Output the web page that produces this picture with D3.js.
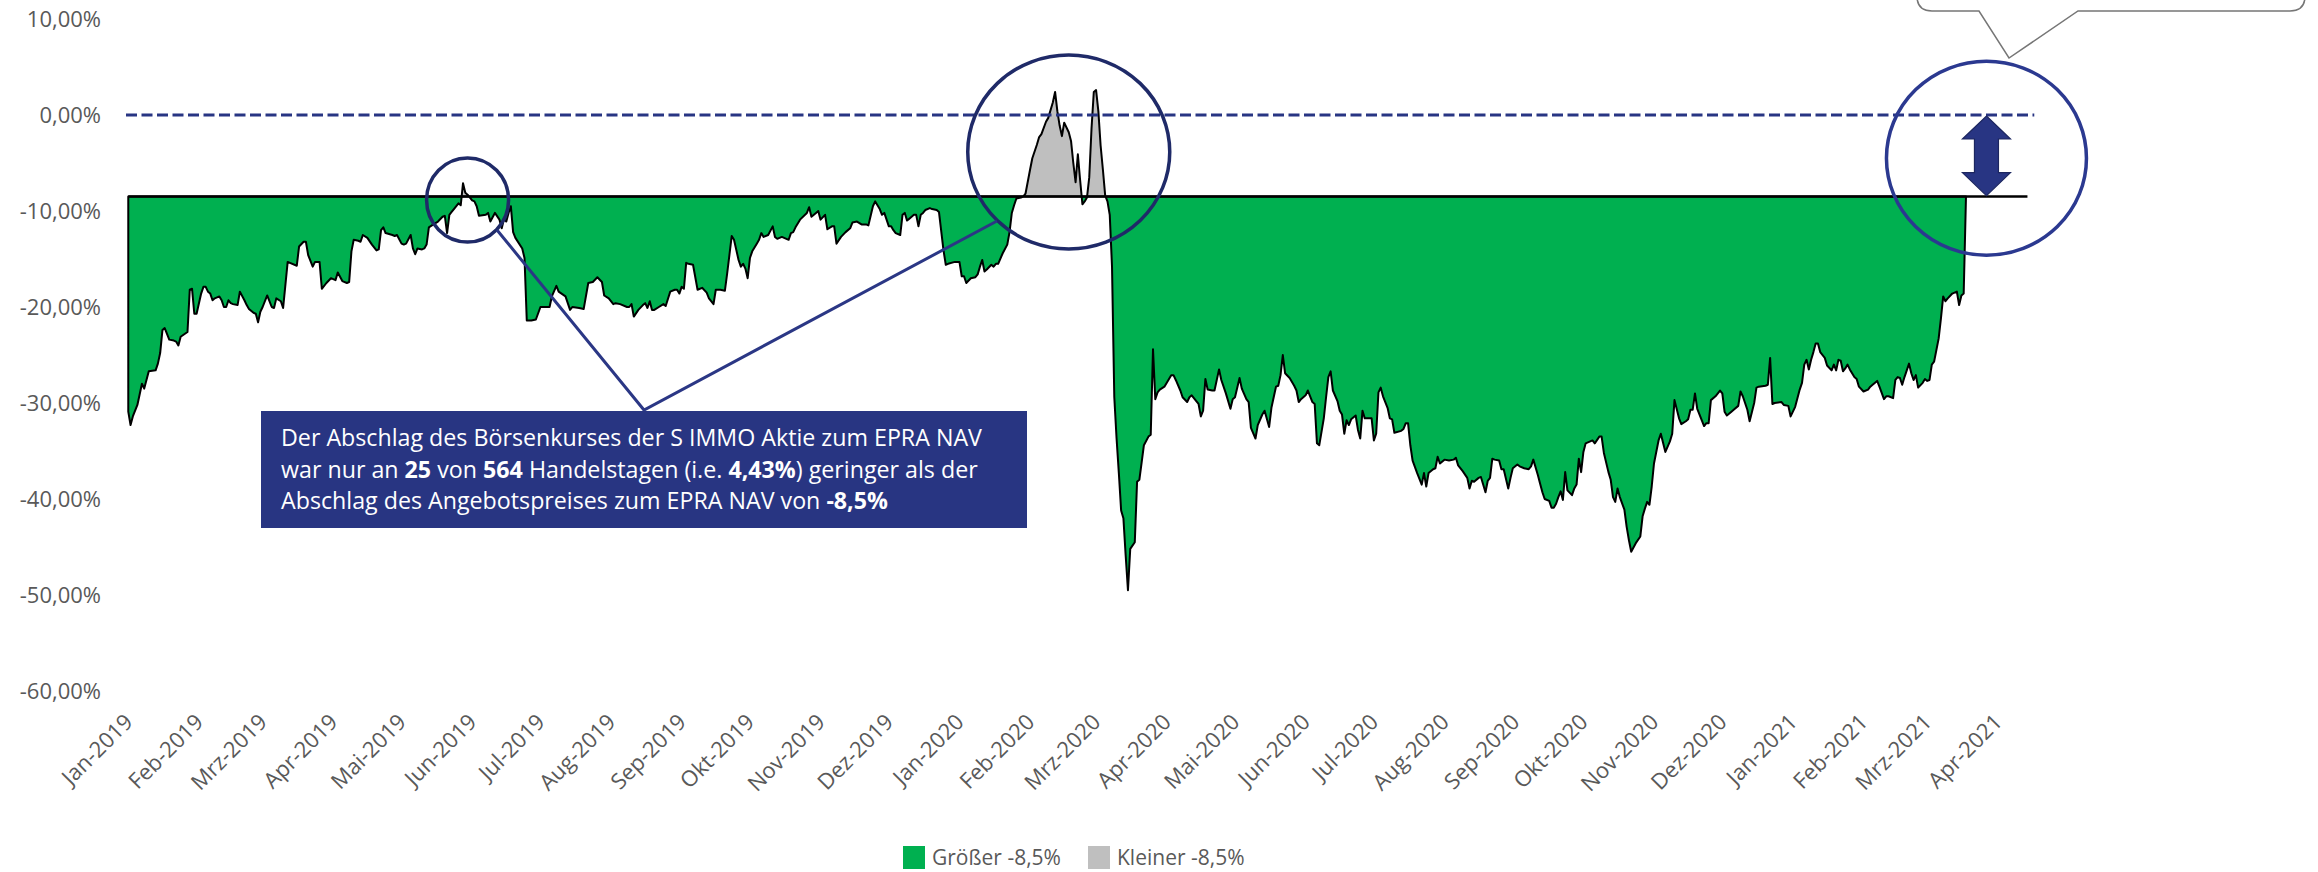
<!DOCTYPE html>
<html>
<head>
<meta charset="utf-8">
<script src="https://cdn.jsdelivr.net/npm/d3@7"></script>
<style>
  body { margin: 0; background: #fff; }
  svg { display: block; font-family: "Open Sans", sans-serif; }
</style>
</head>
<body>
<svg id="chart" width="2318" height="872"></svg>
<script>
// axis labels
const monthNames = ["Jan","Feb","Mrz","Apr","Mai","Jun","Jul","Aug","Sep","Okt","Nov","Dez"]
const yTicks = [10, 0, -10, -20, -30, -40, -50, -60]
const legendLabels = ["Größer -8,5%", "Kleiner -8,5%"]

// reference levels (in %)
const offerDiscount = -8.5
const navParity = 0
const offerLineSpan = ["2019-01-02", "2021-04-15"]
const parityLineSpan = ["2019-01-01", "2021-04-18"]

// discount of the share price to EPRA NAV, in %
const discountByDay = [
  ["2019-01-02",-30.9],["2019-01-03",-32.3],["2019-01-04",-31.4],["2019-01-06",-30.2],["2019-01-08",-28.0],["2019-01-09",-28.5],
  ["2019-01-11",-26.7],["2019-01-14",-26.6],["2019-01-15",-25.9],["2019-01-16",-24.8],["2019-01-17",-22.4],["2019-01-18",-22.2],
  ["2019-01-20",-23.4],["2019-01-22",-23.5],["2019-01-23",-23.6],["2019-01-24",-24.0],["2019-01-25",-23.1],["2019-01-28",-22.6],
  ["2019-01-29",-18.2],["2019-01-30",-18.1],["2019-01-31",-20.7],["2019-02-01",-20.7],["2019-02-03",-18.6],["2019-02-04",-17.9],
  ["2019-02-05",-17.9],["2019-02-06",-18.4],["2019-02-07",-18.6],["2019-02-08",-19.3],["2019-02-09",-19.1],["2019-02-11",-18.9],
  ["2019-02-12",-19.3],["2019-02-13",-20.0],["2019-02-14",-20.0],["2019-02-15",-19.3],["2019-02-16",-19.6],["2019-02-17",-19.7],
  ["2019-02-19",-19.8],["2019-02-20",-18.4],["2019-02-22",-19.3],["2019-02-23",-19.8],["2019-02-24",-20.2],["2019-02-26",-20.6],
  ["2019-02-27",-20.7],["2019-02-28",-21.6],["2019-03-01",-20.5],["2019-03-02",-20.0],["2019-03-04",-18.8],["2019-03-06",-20.0],
  ["2019-03-07",-20.1],["2019-03-08",-19.1],["2019-03-10",-19.4],["2019-03-11",-20.1],["2019-03-13",-15.3],["2019-03-14",-15.4],
  ["2019-03-17",-15.7],["2019-03-18",-13.7],["2019-03-20",-13.2],["2019-03-21",-13.2],["2019-03-22",-14.6],["2019-03-24",-15.8],
  ["2019-03-25",-15.3],["2019-03-27",-15.3],["2019-03-28",-18.1],["2019-03-30",-17.5],["2019-04-01",-17.0],["2019-04-03",-17.2],
  ["2019-04-04",-16.4],["2019-04-06",-17.3],["2019-04-08",-17.5],["2019-04-09",-17.4],["2019-04-10",-14.2],["2019-04-11",-13.0],
  ["2019-04-13",-13.1],["2019-04-14",-13.2],["2019-04-15",-12.5],["2019-04-17",-12.8],["2019-04-19",-13.5],["2019-04-21",-14.1],
  ["2019-04-22",-14.0],["2019-04-23",-12.0],["2019-04-24",-11.7],["2019-04-25",-12.3],["2019-04-28",-12.5],["2019-04-29",-12.6],
  ["2019-04-30",-12.5],["2019-05-02",-13.4],["2019-05-03",-13.5],["2019-05-04",-13.4],["2019-05-06",-12.5],["2019-05-07",-13.9],
  ["2019-05-08",-14.5],["2019-05-09",-13.9],["2019-05-11",-14.0],["2019-05-12",-13.9],["2019-05-13",-13.5],["2019-05-14",-11.7],
  ["2019-05-16",-11.4],["2019-05-18",-11.1],["2019-05-20",-10.6],["2019-05-21",-10.5],["2019-05-22",-12.3],["2019-05-23",-10.4],
  ["2019-05-24",-10.1],["2019-05-25",-9.8],["2019-05-27",-9.2],["2019-05-28",-9.4],["2019-05-29",-7.1],["2019-05-30",-8.1],
  ["2019-05-31",-8.3],["2019-06-02",-8.9],["2019-06-03",-9.0],["2019-06-04",-9.5],["2019-06-05",-10.5],["2019-06-08",-10.4],
  ["2019-06-09",-10.2],["2019-06-10",-11.1],["2019-06-12",-10.2],["2019-06-14",-10.9],["2019-06-15",-11.8],["2019-06-16",-10.8],
  ["2019-06-17",-11.1],["2019-06-18",-10.2],["2019-06-19",-9.5],["2019-06-20",-12.2],["2019-06-21",-12.8],["2019-06-24",-13.9],
  ["2019-06-25",-14.9],["2019-06-26",-21.4],["2019-06-28",-21.4],["2019-06-30",-21.3],["2019-07-02",-20.0],["2019-07-04",-20.0],
  ["2019-07-06",-20.0],["2019-07-07",-18.9],["2019-07-09",-17.8],["2019-07-10",-18.4],["2019-07-13",-18.9],["2019-07-15",-20.3],
  ["2019-07-16",-20.0],["2019-07-19",-20.1],["2019-07-21",-20.2],["2019-07-23",-17.5],["2019-07-25",-17.4],["2019-07-27",-16.9],
  ["2019-07-29",-17.4],["2019-07-30",-18.8],["2019-08-01",-19.1],["2019-08-03",-19.7],["2019-08-04",-19.6],["2019-08-06",-19.7],
  ["2019-08-09",-20.0],["2019-08-10",-20.0],["2019-08-11",-19.7],["2019-08-12",-21.0],["2019-08-14",-20.3],["2019-08-16",-19.8],
  ["2019-08-17",-19.6],["2019-08-18",-20.1],["2019-08-19",-19.4],["2019-08-20",-20.3],["2019-08-21",-20.3],["2019-08-23",-20.0],
  ["2019-08-25",-19.7],["2019-08-26",-19.9],["2019-08-28",-18.4],["2019-08-30",-18.2],["2019-08-31",-18.2],["2019-09-01",-18.6],
  ["2019-09-02",-17.9],["2019-09-03",-18.1],["2019-09-04",-15.4],["2019-09-05",-15.5],["2019-09-07",-15.6],["2019-09-09",-18.2],
  ["2019-09-11",-18.0],["2019-09-13",-18.5],["2019-09-14",-19.1],["2019-09-16",-19.7],["2019-09-17",-18.2],["2019-09-19",-18.2],
  ["2019-09-21",-18.3],["2019-09-22",-16.5],["2019-09-24",-12.6],["2019-09-25",-13.0],["2019-09-27",-15.1],["2019-09-28",-15.8],
  ["2019-09-29",-15.5],["2019-09-30",-16.0],["2019-10-01",-17.0],["2019-10-02",-14.9],["2019-10-03",-14.2],["2019-10-05",-13.4],
  ["2019-10-06",-13.0],["2019-10-07",-12.3],["2019-10-08",-12.7],["2019-10-10",-12.5],["2019-10-12",-11.6],["2019-10-13",-12.7],
  ["2019-10-14",-12.9],["2019-10-16",-12.7],["2019-10-18",-12.9],["2019-10-19",-13.0],["2019-10-20",-12.3],["2019-10-21",-12.2],
  ["2019-10-22",-11.7],["2019-10-24",-10.9],["2019-10-27",-10.2],["2019-10-28",-9.6],["2019-10-29",-10.6],["2019-10-31",-10.2],
  ["2019-11-01",-10.0],["2019-11-02",-10.9],["2019-11-04",-10.4],["2019-11-05",-11.9],["2019-11-07",-11.6],["2019-11-08",-11.6],
  ["2019-11-09",-13.4],["2019-11-11",-12.7],["2019-11-13",-12.2],["2019-11-15",-11.8],["2019-11-16",-11.2],["2019-11-18",-11.1],
  ["2019-11-20",-11.4],["2019-11-22",-11.4],["2019-11-23",-11.5],["2019-11-25",-9.5],["2019-11-26",-9.0],["2019-11-27",-9.4],
  ["2019-11-28",-9.8],["2019-11-29",-10.4],["2019-11-30",-10.2],["2019-12-02",-11.6],["2019-12-03",-11.6],["2019-12-04",-12.0],
  ["2019-12-05",-12.3],["2019-12-07",-12.5],["2019-12-08",-10.4],["2019-12-09",-10.2],["2019-12-10",-11.0],["2019-12-11",-10.8],
  ["2019-12-13",-10.4],["2019-12-14",-10.4],["2019-12-15",-11.6],["2019-12-16",-10.4],["2019-12-17",-10.2],["2019-12-18",-9.9],
  ["2019-12-20",-9.7],["2019-12-21",-9.8],["2019-12-23",-9.9],["2019-12-24",-10.1],["2019-12-26",-14.1],["2019-12-27",-15.6],
  ["2019-12-28",-15.5],["2019-12-31",-15.3],["2020-01-02",-15.3],["2020-01-03",-16.8],["2020-01-04",-16.8],["2020-01-05",-17.5],
  ["2020-01-07",-17.0],["2020-01-09",-16.9],["2020-01-10",-16.6],["2020-01-11",-15.8],["2020-01-12",-15.1],["2020-01-13",-16.3],
  ["2020-01-14",-16.1],["2020-01-16",-15.6],["2020-01-17",-15.8],["2020-01-18",-15.5],["2020-01-19",-15.5],["2020-01-21",-14.4],
  ["2020-01-23",-13.5],["2020-01-24",-12.2],["2020-01-25",-10.2],["2020-01-26",-9.4],["2020-01-27",-8.7],["2020-01-29",-8.6],
  ["2020-01-30",-8.5],["2020-01-31",-8.2],["2020-02-02",-5.7],["2020-02-03",-4.5],["2020-02-05",-3.1],["2020-02-06",-2.3],
  ["2020-02-07",-2.0],["2020-02-09",-0.7],["2020-02-10",-0.3],["2020-02-12",1.3],["2020-02-13",2.4],["2020-02-14",0.4],
  ["2020-02-15",-1.1],["2020-02-16",-2.2],["2020-02-17",-0.8],["2020-02-19",-1.8],["2020-02-20",-2.7],["2020-02-21",-5.0],
  ["2020-02-22",-7.0],["2020-02-23",-4.1],["2020-02-24",-6.8],["2020-02-25",-9.3],["2020-02-26",-9.0],["2020-02-27",-8.6],
  ["2020-02-28",-6.5],["2020-02-29",-1.4],["2020-03-01",2.4],["2020-03-02",2.6],["2020-03-03",0.4],["2020-03-04",-3.2],
  ["2020-03-05",-5.7],["2020-03-06",-8.4],["2020-03-07",-9.0],["2020-03-08",-10.4],["2020-03-09",-15.8],["2020-03-10",-29.4],
  ["2020-03-11",-33.7],["2020-03-12",-37.3],["2020-03-13",-41.2],["2020-03-14",-42.0],["2020-03-15",-45.9],["2020-03-16",-49.5],
  ["2020-03-17",-45.2],["2020-03-19",-44.5],["2020-03-20",-38.2],["2020-03-21",-38.0],["2020-03-22",-36.2],["2020-03-23",-34.4],
  ["2020-03-25",-33.5],["2020-03-26",-33.3],["2020-03-27",-24.4],["2020-03-28",-29.6],["2020-03-29",-28.9],["2020-03-30",-28.6],
  ["2020-04-01",-28.3],["2020-04-04",-27.1],["2020-04-05",-27.1],["2020-04-06",-27.6],["2020-04-08",-28.7],["2020-04-09",-29.4],
  ["2020-04-11",-29.9],["2020-04-12",-29.4],["2020-04-13",-29.2],["2020-04-15",-29.8],["2020-04-16",-30.1],["2020-04-17",-31.4],
  ["2020-04-18",-30.8],["2020-04-19",-27.5],["2020-04-20",-28.6],["2020-04-22",-28.7],["2020-04-23",-28.7],["2020-04-25",-26.5],
  ["2020-04-26",-27.6],["2020-04-28",-29.0],["2020-04-30",-30.6],["2020-05-01",-29.6],["2020-05-02",-29.4],["2020-05-04",-27.4],
  ["2020-05-05",-28.5],["2020-05-07",-29.6],["2020-05-08",-29.9],["2020-05-09",-32.6],["2020-05-11",-33.7],["2020-05-12",-32.3],
  ["2020-05-14",-31.2],["2020-05-15",-30.8],["2020-05-17",-32.5],["2020-05-18",-30.5],["2020-05-20",-28.3],["2020-05-21",-28.2],
  ["2020-05-22",-27.1],["2020-05-23",-25.0],["2020-05-24",-26.9],["2020-05-26",-27.4],["2020-05-28",-28.2],["2020-05-29",-28.7],
  ["2020-05-30",-29.9],["2020-05-31",-29.6],["2020-06-02",-29.2],["2020-06-03",-28.7],["2020-06-05",-29.9],["2020-06-06",-30.1],
  ["2020-06-07",-34.2],["2020-06-08",-34.4],["2020-06-09",-33.0],["2020-06-10",-31.6],["2020-06-11",-29.4],["2020-06-12",-27.3],
  ["2020-06-13",-26.7],["2020-06-14",-28.7],["2020-06-16",-29.8],["2020-06-17",-30.8],["2020-06-18",-31.2],["2020-06-19",-33.2],
  ["2020-06-20",-31.8],["2020-06-21",-32.3],["2020-06-22",-31.7],["2020-06-24",-31.3],["2020-06-25",-32.8],["2020-06-26",-33.7],
  ["2020-06-27",-30.8],["2020-06-28",-31.6],["2020-06-30",-31.6],["2020-07-01",-31.6],["2020-07-02",-33.9],["2020-07-03",-33.2],
  ["2020-07-04",-28.9],["2020-07-05",-28.4],["2020-07-06",-29.3],["2020-07-08",-30.5],["2020-07-09",-31.6],["2020-07-10",-31.7],
  ["2020-07-11",-33.1],["2020-07-14",-32.9],["2020-07-15",-32.7],["2020-07-16",-32.1],["2020-07-17",-32.1],["2020-07-18",-34.4],
  ["2020-07-19",-36.0],["2020-07-21",-37.3],["2020-07-23",-38.5],["2020-07-24",-37.3],["2020-07-25",-38.7],["2020-07-26",-37.3],
  ["2020-07-28",-36.9],["2020-07-29",-36.8],["2020-07-30",-35.6],["2020-07-31",-36.3],["2020-08-02",-35.9],["2020-08-04",-36.0],
  ["2020-08-06",-35.9],["2020-08-07",-35.7],["2020-08-08",-36.5],["2020-08-10",-37.1],["2020-08-12",-37.8],["2020-08-13",-38.9],
  ["2020-08-14",-38.1],["2020-08-15",-38.2],["2020-08-17",-37.8],["2020-08-18",-37.7],["2020-08-20",-39.3],["2020-08-21",-38.1],
  ["2020-08-22",-37.8],["2020-08-23",-35.8],["2020-08-24",-35.9],["2020-08-26",-36.0],["2020-08-27",-36.9],["2020-08-28",-36.9],
  ["2020-08-30",-38.9],["2020-08-31",-37.8],["2020-09-01",-36.8],["2020-09-03",-36.4],["2020-09-04",-36.6],["2020-09-06",-36.8],
  ["2020-09-08",-36.9],["2020-09-09",-36.6],["2020-09-10",-35.9],["2020-09-12",-37.5],["2020-09-13",-38.4],["2020-09-14",-39.3],
  ["2020-09-15",-40.0],["2020-09-17",-40.2],["2020-09-18",-40.9],["2020-09-19",-40.9],["2020-09-20",-40.5],["2020-09-21",-39.8],
  ["2020-09-22",-39.2],["2020-09-23",-40.1],["2020-09-24",-37.2],["2020-09-25",-39.1],["2020-09-27",-39.6],["2020-09-28",-38.9],
  ["2020-09-29",-38.5],["2020-09-30",-35.8],["2020-10-01",-37.2],["2020-10-02",-35.1],["2020-10-03",-34.2],["2020-10-06",-33.9],
  ["2020-10-07",-34.2],["2020-10-09",-33.5],["2020-10-10",-33.5],["2020-10-11",-35.2],["2020-10-13",-37.2],["2020-10-14",-38.0],
  ["2020-10-15",-39.8],["2020-10-16",-40.3],["2020-10-17",-38.9],["2020-10-18",-39.8],["2020-10-20",-41.1],["2020-10-21",-42.9],
  ["2020-10-22",-44.3],["2020-10-23",-45.5],["2020-10-25",-44.6],["2020-10-27",-43.9],["2020-10-28",-41.8],["2020-10-29",-41.0],
  ["2020-10-30",-40.3],["2020-10-31",-40.6],["2020-11-01",-38.7],["2020-11-02",-36.3],["2020-11-04",-33.9],["2020-11-05",-33.2],
  ["2020-11-07",-35.1],["2020-11-09",-34.0],["2020-11-10",-33.2],["2020-11-11",-29.7],["2020-11-13",-31.6],["2020-11-14",-32.2],
  ["2020-11-16",-31.9],["2020-11-17",-31.7],["2020-11-18",-30.7],["2020-11-19",-30.7],["2020-11-20",-29.0],["2020-11-21",-30.6],
  ["2020-11-23",-31.8],["2020-11-24",-32.4],["2020-11-25",-32.1],["2020-11-26",-32.1],["2020-11-27",-29.7],["2020-11-29",-29.3],
  ["2020-12-01",-28.7],["2020-12-02",-29.0],["2020-12-03",-30.9],["2020-12-04",-31.3],["2020-12-06",-30.9],["2020-12-07",-30.7],
  ["2020-12-09",-30.3],["2020-12-10",-28.8],["2020-12-11",-29.3],["2020-12-13",-30.7],["2020-12-14",-31.9],["2020-12-16",-30.0],
  ["2020-12-17",-28.4],["2020-12-18",-28.3],["2020-12-21",-28.2],["2020-12-22",-28.1],["2020-12-23",-25.3],["2020-12-24",-30.1],
  ["2020-12-25",-30.0],["2020-12-28",-29.9],["2020-12-29",-30.2],["2020-12-31",-30.3],["2021-01-01",-31.4],["2021-01-03",-30.4],
  ["2021-01-05",-28.6],["2021-01-06",-27.9],["2021-01-07",-26.0],["2021-01-08",-25.5],["2021-01-09",-26.5],["2021-01-10",-25.5],
  ["2021-01-11",-24.7],["2021-01-12",-23.8],["2021-01-13",-23.8],["2021-01-14",-24.7],["2021-01-16",-25.3],["2021-01-17",-26.1],
  ["2021-01-19",-26.6],["2021-01-20",-26.0],["2021-01-21",-26.6],["2021-01-22",-25.5],["2021-01-23",-25.6],["2021-01-24",-26.7],
  ["2021-01-25",-26.4],["2021-01-26",-26.0],["2021-01-27",-26.5],["2021-01-29",-27.3],["2021-01-30",-27.5],["2021-01-31",-28.3],
  ["2021-02-02",-28.8],["2021-02-04",-28.6],["2021-02-05",-28.3],["2021-02-06",-28.1],["2021-02-08",-27.7],["2021-02-09",-28.3],
  ["2021-02-11",-29.6],["2021-02-12",-29.3],["2021-02-13",-29.3],["2021-02-15",-29.5],["2021-02-16",-27.6],["2021-02-17",-27.3],
  ["2021-02-18",-27.4],["2021-02-19",-28.1],["2021-02-20",-27.3],["2021-02-22",-25.9],["2021-02-23",-26.9],["2021-02-24",-27.6],
  ["2021-02-25",-27.1],["2021-02-26",-28.4],["2021-02-28",-27.9],["2021-03-01",-27.5],["2021-03-02",-27.7],["2021-03-03",-27.6],
  ["2021-03-04",-26.0],["2021-03-05",-25.7],["2021-03-07",-23.3],["2021-03-08",-21.2],["2021-03-09",-18.9],["2021-03-10",-19.4],
  ["2021-03-11",-19.1],["2021-03-13",-18.6],["2021-03-15",-18.4],["2021-03-16",-19.8],["2021-03-17",-18.8],["2021-03-18",-18.6],
  ["2021-03-19",-8.6]
]

// text in the blue box, [text, bold]
const boxLines = [
  [["Der Abschlag des Börsenkurses der S IMMO Aktie zum EPRA NAV", false]],
  [["war nur an ", false], ["25", true], [" von ", false], ["564", true], [" Handelstagen (i.e. ", false], ["4,43%", true], [") geringer als der", false]],
  [["Abschlag des Angebotspreises zum EPRA NAV von ", false], ["-8,5%", true]]
]

const parseDay = d3.timeParse("%Y-%m-%d")
const series = discountByDay.map(([d, v]) => ({ date: parseDay(d), value: v }))

const svg = d3.select("#chart")
const textColor = "#595959"

const x = d3.scaleTime()
  .domain([parseDay("2019-01-01"), parseDay("2021-04-17")])
  .range([126, 2032])
const y = d3.scaleLinear().domain([-60, 10]).range([691, 19])

const de = d3.formatLocale({ decimal: ",", thousands: ".", grouping: [3], currency: ["", "€"], minus: "-" })
const pct = v => de.format(".2f")(v) + "%"

// y axis (labels only)
const yAxis = svg.append("g")
  .attr("transform", "translate(101,0)")
  .call(d3.axisLeft(y).tickValues(yTicks).tickSize(0).tickPadding(0).tickFormat(pct))
yAxis.select(".domain").remove()
yAxis.selectAll("text")
  .attr("fill", textColor)
  .style("font-size", "22px")
  .style("font-family", "Open Sans")

// x axis, monthly date labels rotated
const months = d3.timeMonth.range(parseDay("2019-01-01"), parseDay("2021-04-02"))
const xAxis = svg.append("g")
  .attr("transform", "translate(0,720)")
  .call(d3.axisBottom(x).tickValues(months).tickSize(0)
    .tickFormat(d => monthNames[d.getMonth()] + "-" + d.getFullYear()))
xAxis.select(".domain").remove()
xAxis.selectAll("text")
  .attr("fill", textColor)
  .attr("x", 3).attr("y", 0).attr("dy", "0.35em")
  .attr("transform", "rotate(-45)")
  .style("text-anchor", "end")
  .style("font-size", "22px")
  .style("font-family", "Open Sans")

// areas split at the -8,5% level
const base = y(offerDiscount)
const defs = svg.append("defs")
defs.append("clipPath").attr("id", "below")
  .append("rect").attr("x", 0).attr("y", base).attr("width", 2318).attr("height", 872)
defs.append("clipPath").attr("id", "above")
  .append("rect").attr("x", 0).attr("y", 0).attr("width", 2318).attr("height", base)

const area = d3.area()
  .x(d => x(d.date))
  .y0(base)
  .y1(d => y(d.value))

svg.append("path").datum(series)
  .attr("d", area).attr("fill", "#00B050").attr("clip-path", "url(#below)")
svg.append("path").datum(series)
  .attr("d", area).attr("fill", "#BFBFBF").attr("clip-path", "url(#above)")
svg.append("path").datum(series)
  .attr("d", area).attr("fill", "none")
  .attr("stroke", "#000").attr("stroke-width", 2).attr("stroke-linejoin", "round")

// -8,5% offer level
svg.append("line")
  .attr("x1", x(parseDay(offerLineSpan[0]))).attr("x2", x(parseDay(offerLineSpan[1])))
  .attr("y1", base).attr("y2", base)
  .attr("stroke", "#000").attr("stroke-width", 2.5)

// 0% dashed
svg.append("line")
  .attr("x1", x(parseDay(parityLineSpan[0]))).attr("x2", x(parseDay(parityLineSpan[1])))
  .attr("y1", y(navParity)).attr("y2", y(navParity))
  .attr("stroke", "#283583").attr("stroke-width", 3).attr("stroke-dasharray", "11,4.5")

// highlight ellipses
const rings = [
  { date: "2019-05-31", value: -8.85, rx: 41, ry: 42, color: "#1f2a68" },
  { date: "2020-02-19", value: -3.85, rx: 101, ry: 97, color: "#1f2a68" },
  { date: "2021-03-28", value: -4.5, rx: 100, ry: 97, color: "#2b3990" }
]
svg.selectAll(".ring").data(rings).join("ellipse")
  .attr("cx", d => x(parseDay(d.date))).attr("cy", d => y(d.value))
  .attr("rx", d => d.rx).attr("ry", d => d.ry)
  .attr("fill", "none").attr("stroke", d => d.color).attr("stroke-width", 3.5)

// double arrow between 0% and -8,5%
const ax = x(parseDay("2021-03-28"))
const yTop = y(navParity) + 1, yBot = base - 1
const hl = 23, hw = 24, sw = 12
svg.append("path")
  .attr("d", `M${ax},${yTop} L${ax + hw},${yTop + hl} L${ax + sw},${yTop + hl} L${ax + sw},${yBot - hl}
    L${ax + hw},${yBot - hl} L${ax},${yBot} L${ax - hw},${yBot - hl} L${ax - sw},${yBot - hl}
    L${ax - sw},${yTop + hl} L${ax - hw},${yTop + hl} Z`)
  .attr("fill", "#283583").attr("stroke", "#1c2660").attr("stroke-width", 1.2)

// connectors from the note box
const apex = [644, 410]
svg.append("path")
  .attr("d", `M497,230 L${apex[0]},${apex[1]} L997,221`)
  .attr("fill", "none").attr("stroke", "#2b3785").attr("stroke-width", 3)

// note box
svg.append("rect")
  .attr("x", 261).attr("y", 411).attr("width", 766).attr("height", 117)
  .attr("fill", "#283582")

const noteText = svg.append("text")
  .attr("fill", "#fff")
  .style("font-family", "Open Sans")
  .style("font-size", "22px")
boxLines.forEach((line, i) => {
  const t = noteText.append("tspan").attr("x", 281).attr("y", 446 + i * 31.5)
  line.forEach(([s, b]) => {
    t.append("tspan").text(s).attr("font-weight", b ? 700 : 400)
  })
})
// fit the first line to the width it has in the picture
const firstW = noteText.select("tspan").node().getComputedTextLength()
noteText.style("font-size", (22 * 701 / firstW).toFixed(2) + "px")

// speech bubble at the top right (cut off by the frame)
svg.append("path")
  .attr("d", "M1917,-60 L1917,-4 Q1917,11 1932,11 L1979,11 L2009,58 L2078,11 L2290,11 Q2305,11 2305,-4 L2305,-60")
  .attr("fill", "#fff").attr("stroke", "#767676").attr("stroke-width", 1.5)

// legend
const legend = svg.append("g").attr("transform", "translate(903,846)")
const legendColors = ["#00B050", "#BFBFBF"]
const legendX = [0, 185]
legendLabels.forEach((lab, i) => {
  legend.append("rect").attr("x", legendX[i]).attr("y", 0).attr("width", 22).attr("height", 23)
    .attr("fill", legendColors[i])
  legend.append("text").attr("x", legendX[i] + 29).attr("y", 12).attr("dy", "0.35em")
    .attr("fill", textColor).style("font-size", "21px").text(lab)
})
</script>
</body>
</html>
